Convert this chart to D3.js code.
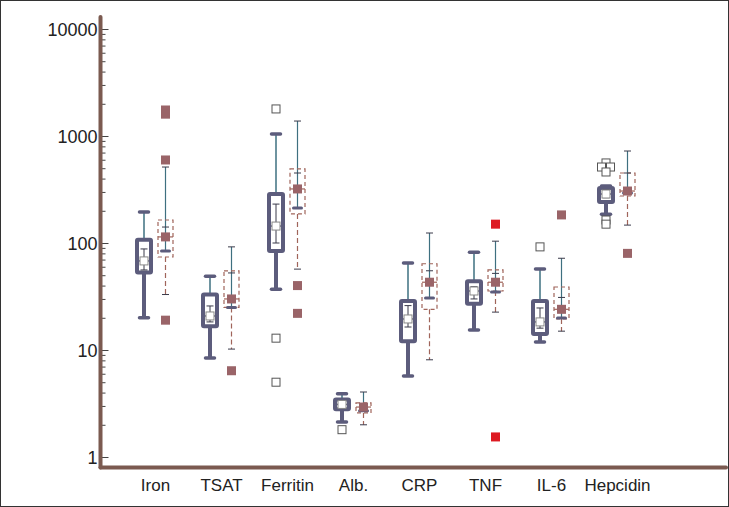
<!DOCTYPE html>
<html><head><meta charset="utf-8">
<script src="https://cdn.jsdelivr.net/npm/d3@7"></script>
<style>html,body{margin:0;padding:0;background:#fff;}svg{display:block;font-family:"Liberation Sans",Arial,sans-serif;}</style>
</head><body>
<svg id="chart" width="729" height="507"></svg>
<script>
const categories = ["Iron","TSAT","Ferritin","Alb.","CRP","TNF","IL-6","Hepcidin"];
const yTickValues = [1,10,100,1000,10000];

// Group A (solid boxes)
const minA  = [20, 8.4, 37, 2.12, 5.7, 15.4, 11.9, 186];
const q1A   = [53, 16.7, 84, 2.8, 12.1, 27, 14.1, 241];
const medA  = [68, 20.8, 144, 3.1, 19.5, 35.6, 18.3, 287];
const q3A   = [107, 33, 287, 3.45, 28.7, 44, 28.7, 327];
const maxA  = [195, 49, 1045, 3.9, 65, 82, 57, 341];
const ciLoA = [56, 18.3, 100, 2.95, 16.4, 30, 16, 265];
const ciHiA = [88, 25.8, 231, 3.28, 26, 39, 24.7, 312];
const outA  = [[], [], [1790, 12.9, 5.0], [1.8], [], [], [92], [560, 513, 513, 461, 164, 150]];

// Group B (dashed boxes)
const minB  = [33, 10.2, 57, 2.0, 8.1, 22.6, 15, 147];
const q1B   = [74, 25, 187, 2.58, 24, 35.6, 19.5, 275];
const medB  = [114, 30, 320, 2.93, 43, 43, 24, 306];
const q3B   = [164, 55, 492, 3.2, 64, 56, 38.8, 451];
const maxB  = [513, 92, 1380, 4.05, 124, 104, 72, 724];
const ciLoB = [84, 25, 212, 2.7, 30.6, 34.8, 19.9, 293];
const ciHiB = [141, 52.5, 451, 3.15, 55, 52, 31, 451];
const outB  = [[1750, 1600, 597, 19], [6.4], [40, 22], [], [], [], [183], [80]];
const farB  = [[], [], [], [], [], [150, 1.54], [], []];

const C = {slate:"#5c5c7c", teal:"#3e7080", brown:"#a0645a", mauve:"#9a6468", red:"#dd1a22", axis:"#7b5a50", dark:"#3a3a4a"};

const svg = d3.select("#chart");
svg.append("rect").attr("x",0.5).attr("y",0.5).attr("width",728).attr("height",506)
  .attr("fill","#fff").attr("stroke","#333").attr("stroke-width",1);

const x = d3.scalePoint().domain(categories).range([155.5, 617.5]);
const y = d3.scaleLog().domain([1, 10000]).range([457, 29]);
const axisX = 100.5, axisY = 467.5;
const offA = -11.5, offB = 10;

// minor ticks
const minor = [];
for (let d = 1; d < 10000; d *= 10) for (let k = 2; k <= 9; k++) minor.push(d * k);
svg.append("g").attr("transform",`translate(${axisX},0)`)
  .call(d3.axisLeft(y).tickValues(minor).tickSizeInner(-4).tickSizeOuter(0).tickFormat(""))
  .call(g => g.select(".domain").remove())
  .call(g => g.selectAll("line").attr("stroke","#444").attr("transform","translate(1,0)"));
svg.append("g").attr("transform",`translate(${axisX},0)`)
  .call(d3.axisLeft(y).tickValues(yTickValues).tickSizeInner(-7).tickSizeOuter(0).tickPadding(4).tickFormat(d3.format("d")))
  .call(g => g.select(".domain").remove())
  .call(g => g.selectAll("line").attr("stroke","#444").attr("transform","translate(1,0)"))
  .call(g => g.selectAll("text").attr("font-size",18).attr("fill","#222").attr("font-family","Liberation Sans, Arial, sans-serif").attr("dy","0.35em").attr("x",-3));

// axis lines
svg.append("line").attr("x1",axisX).attr("x2",axisX).attr("y1",17).attr("y2",axisY)
  .attr("stroke",C.axis).attr("stroke-width",4).attr("stroke-linecap","round");
svg.append("line").attr("x1",axisX).attr("x2",726).attr("y1",axisY).attr("y2",axisY)
  .attr("stroke",C.axis).attr("stroke-width",4).attr("stroke-linecap","round");

// x labels
svg.append("g").selectAll("text").data(categories).join("text")
  .attr("x", d => x(d)).attr("y", 491).attr("text-anchor","middle")
  .attr("font-size",17).attr("fill","#222").text(d => d);

function dodge(vals) {
  const counts = {};
  vals.forEach(v => counts[v] = (counts[v] || 0) + 1);
  const seen = {};
  return vals.map(v => {
    const n = counts[v]; const i = (seen[v] = (seen[v] || 0) + 1) - 1;
    return {v, dx: (i - (n - 1) / 2) * 9};
  });
}

const gA = svg.append("g");
categories.forEach((c, i) => {
  const cx = x(c) + offA;
  const g = gA.append("g");
  g.append("line").attr("x1",cx).attr("x2",cx).attr("y1",y(q3A[i])).attr("y2",y(maxA[i]))
    .attr("stroke",C.teal).attr("stroke-width",1.5);
  g.append("line").attr("x1",cx-4.5).attr("x2",cx+4.5).attr("y1",y(maxA[i])).attr("y2",y(maxA[i]))
    .attr("stroke",C.slate).attr("stroke-width",3.5).attr("stroke-linecap","round");
  g.append("line").attr("x1",cx).attr("x2",cx).attr("y1",y(q1A[i])).attr("y2",y(minA[i]))
    .attr("stroke",C.slate).attr("stroke-width",4);
  g.append("line").attr("x1",cx-4.5).attr("x2",cx+4.5).attr("y1",y(minA[i])).attr("y2",y(minA[i]))
    .attr("stroke",C.slate).attr("stroke-width",3.5).attr("stroke-linecap","round");
  g.append("rect").attr("x",cx-7).attr("width",14).attr("y",y(q3A[i])).attr("height",y(q1A[i])-y(q3A[i]))
    .attr("fill","#fff").attr("stroke",C.slate).attr("stroke-width",4).attr("rx",1);
  [-1,1].forEach(s => g.append("line").attr("x1",cx+s*5).attr("x2",cx+s*2.5)
    .attr("y1",y(medA[i])).attr("y2",y(medA[i])).attr("stroke",C.slate).attr("stroke-width",1.5));
  g.append("line").attr("x1",cx).attr("x2",cx).attr("y1",y(ciLoA[i])).attr("y2",y(ciHiA[i]))
    .attr("stroke",C.dark).attr("stroke-width",1);
  [ciLoA[i], ciHiA[i]].forEach(v => g.append("line").attr("x1",cx-3.5).attr("x2",cx+3.5)
    .attr("y1",y(v)).attr("y2",y(v)).attr("stroke",C.dark).attr("stroke-width",1));
  g.append("rect").attr("x",cx-4).attr("y",y(medA[i])-4).attr("width",8).attr("height",8)
    .attr("fill","#fff").attr("stroke","#888").attr("stroke-width",1);
  dodge(outA[i]).forEach(o => g.append("rect").attr("x",cx+o.dx-4).attr("y",y(o.v)-4)
    .attr("width",8).attr("height",8).attr("fill","#fff").attr("stroke","#555").attr("stroke-width",1));
});

const gB = svg.append("g");
categories.forEach((c, i) => {
  const cx = x(c) + offB;
  const g = gB.append("g");
  g.append("line").attr("x1",cx).attr("x2",cx).attr("y1",y(ciHiB[i])).attr("y2",y(maxB[i]))
    .attr("stroke",C.teal).attr("stroke-width",1.2);
  g.append("line").attr("x1",cx-3.5).attr("x2",cx+3.5).attr("y1",y(maxB[i])).attr("y2",y(maxB[i]))
    .attr("stroke",C.dark).attr("stroke-width",1);
  g.append("line").attr("x1",cx).attr("x2",cx).attr("y1",y(q1B[i])).attr("y2",y(minB[i]))
    .attr("stroke",C.brown).attr("stroke-width",1.2).attr("stroke-dasharray","5,3");
  g.append("line").attr("x1",cx-3.5).attr("x2",cx+3.5).attr("y1",y(minB[i])).attr("y2",y(minB[i]))
    .attr("stroke",C.dark).attr("stroke-width",1);
  g.append("rect").attr("x",cx-7.5).attr("width",15).attr("y",y(q3B[i])).attr("height",y(q1B[i])-y(q3B[i]))
    .attr("fill","none").attr("stroke",C.brown).attr("stroke-width",1.2).attr("stroke-dasharray","4,3");
  g.append("line").attr("x1",cx).attr("x2",cx).attr("y1",y(ciLoB[i])).attr("y2",y(ciHiB[i]))
    .attr("stroke",C.teal).attr("stroke-width",1.2);
  g.append("line").attr("x1",cx-3.5).attr("x2",cx+3.5).attr("y1",y(ciHiB[i])).attr("y2",y(ciHiB[i]))
    .attr("stroke",C.dark).attr("stroke-width",1);
  g.append("line").attr("x1",cx-4).attr("x2",cx+4).attr("y1",y(ciLoB[i])).attr("y2",y(ciLoB[i]))
    .attr("stroke",C.slate).attr("stroke-width",3).attr("stroke-linecap","round");
  [-1,1].forEach(s => g.append("line").attr("x1",cx+s*7.5).attr("x2",cx+s*4)
    .attr("y1",y(medB[i])).attr("y2",y(medB[i])).attr("stroke",C.brown).attr("stroke-width",1.2));
  g.append("rect").attr("x",cx-4.5).attr("y",y(medB[i])-4.5).attr("width",9).attr("height",9)
    .attr("fill",C.mauve);
  dodge(outB[i]).forEach(o => g.append("rect").attr("x",cx+o.dx-4.5).attr("y",y(o.v)-4.5)
    .attr("width",9).attr("height",9).attr("fill",C.mauve));
  dodge(farB[i]).forEach(o => g.append("rect").attr("x",cx+o.dx-4.5).attr("y",y(o.v)-4.5)
    .attr("width",9).attr("height",9).attr("fill",C.red));
});
</script>
</body></html>
